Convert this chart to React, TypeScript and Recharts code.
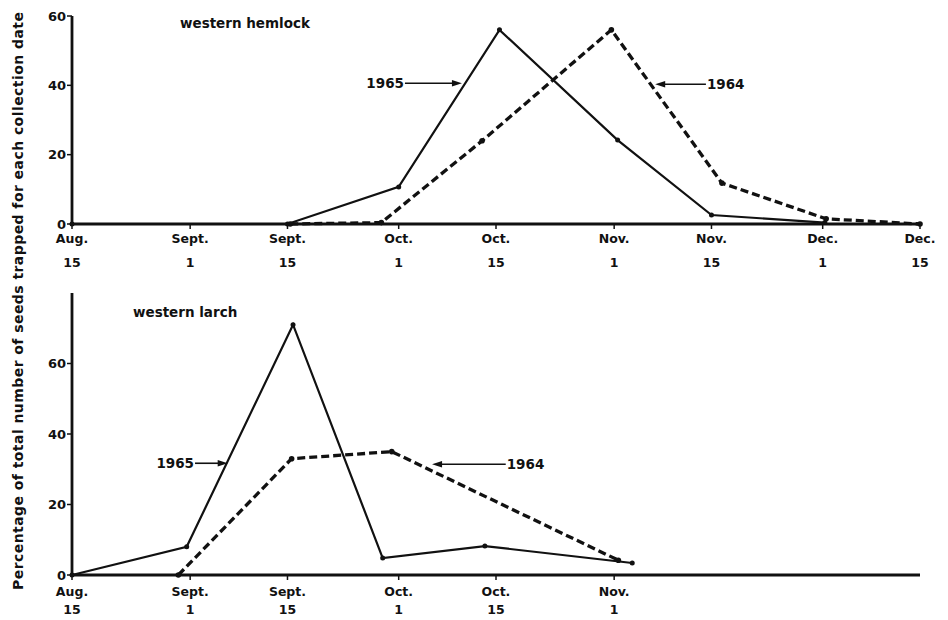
import { LineChart, Line, XAxis, YAxis, ReferenceLine } from 'recharts';

// x is days after Aug. 15 (Dec. 15 = 122)
const TICK_DAYS = [0, 17, 31, 47, 61, 78, 92, 108, 122];
const TICK_MONTH = ['Aug.', 'Sept.', 'Sept.', 'Oct.', 'Oct.', 'Nov.', 'Nov.', 'Dec.', 'Dec.'];
const TICK_DATE = ['15', '1', '15', '1', '15', '1', '15', '1', '15'];
const LARCH_TICK_DAYS = [0, 17, 31, 47, 61, 78];

const hemlockDays1965 = [0, 31, 47, 61.5, 78.5, 92, 108.3];
const hemlockPct1965 = [0, 0, 10.7, 56, 24.2, 2.6, 0.4];
const hemlockDays1964 = [31.4, 44.5, 59, 77.6, 93.5, 108.5, 122];
const hemlockPct1964 = [0, 0.4, 24, 56, 11.8, 1.5, 0];

const larchDays1965 = [0, 16.5, 31.8, 44.7, 59.4, 80.6];
const larchPct1965 = [0, 8, 71, 4.8, 8.2, 3.4];
const larchDays1964 = [15.3, 31.6, 46, 78.6];
const larchPct1964 = [0, 33, 35, 4.2];

const FONT = '"DejaVu Sans", sans-serif';
const INK = '#111';

const zip = (days: number[], vals: number[]) => days.map((d, i) => ({ day: d, v: vals[i] }));

function DateTick(props: any) {
  const { x, y, payload, first, gap } = props;
  const i = TICK_DAYS.indexOf(payload.value);
  return (
    <text x={x} y={y} textAnchor="middle" fontFamily={FONT} fontWeight="bold" fontSize={12.5} fill={INK}>
      <tspan x={x} dy={first}>{TICK_MONTH[i]}</tspan>
      <tspan x={x} dy={gap}>{TICK_DATE[i]}</tspan>
    </text>
  );
}

// arrow from (x1,y1) to (x2,y2), year written before the tail
function Arrow(props: any) {
  const { x1, y1, x2, y2, text } = props;
  const dir = x2 > x1 ? 1 : -1;
  const tip = x2;
  return (
    <g>
      <line x1={x1} y1={y1} x2={tip - dir * 6} y2={y2} stroke={INK} strokeWidth={1.6} />
      <polygon points={`${tip},${y2} ${tip - dir * 10},${y2 - 3.2} ${tip - dir * 10},${y2 + 3.2}`} fill={INK} />
      <text
        x={x1 - dir * 1}
        y={y1 + 5}
        textAnchor={dir > 0 ? 'end' : 'start'}
        fontFamily={FONT}
        fontWeight="bold"
        fontSize={13.5}
        fill={INK}
      >
        {text}
      </text>
    </g>
  );
}

const axisLine = { stroke: INK, strokeWidth: 2.8 };
const tickLine = { stroke: INK, strokeWidth: 1.5 };
const yTick = { fontFamily: FONT, fontWeight: 'bold', fontSize: 13, fill: INK };

export default function App() {
  return (
    <div style={{ position: 'fixed', left: 0, top: 0, width: 948, height: 620, background: '#fff' }}>
      {/* western hemlock */}
      <div style={{ position: 'absolute', left: 0, top: 0 }}>
        <LineChart width={948} height={275} margin={{ top: 16, right: 28, bottom: 6, left: 32 }}>
          <XAxis
            type="number"
            dataKey="day"
            domain={[0, 122]}
            ticks={TICK_DAYS}
            interval={0}
            height={45}
            axisLine={axisLine}
            tickLine={tickLine}
            tickSize={5}
            tickMargin={2}
            tick={(p: any) => <DateTick {...p} first={12} gap={24} />}
          />
          <YAxis
            type="number"
            domain={[0, 60]}
            ticks={[0, 20, 40, 60]}
            width={40}
            axisLine={axisLine}
            tickLine={tickLine}
            tickSize={5}
            tickMargin={1}
            tick={yTick}
          />
          <Line
            data={zip(hemlockDays1965, hemlockPct1965)}
            dataKey="v"
            type="linear"
            stroke={INK}
            strokeWidth={2.2}
            dot={{ r: 2.5, fill: INK, stroke: 'none' }}
            isAnimationActive={false}
          />
          <Line
            data={zip(hemlockDays1964, hemlockPct1964)}
            dataKey="v"
            type="linear"
            stroke={INK}
            strokeWidth={3.3}
            strokeDasharray="8 4"
            dot={{ r: 2.8, fill: INK, stroke: 'none' }}
            isAnimationActive={false}
          />
          <ReferenceLine
            segment={[{ x: 47.9, y: 40.6 }, { x: 56.1, y: 40.6 }]}
            shape={(p: any) => <Arrow {...p} text="1965" />}
          />
          <ReferenceLine
            segment={[{ x: 91.2, y: 40.3 }, { x: 83.9, y: 40.3 }]}
            shape={(p: any) => <Arrow {...p} text="1964" />}
          />
        </LineChart>
      </div>

      {/* western larch */}
      <div style={{ position: 'absolute', left: 0, top: 280 }}>
        <LineChart width={948} height={340} margin={{ top: 13, right: 28, bottom: 0, left: 32 }}>
          <XAxis
            type="number"
            dataKey="day"
            domain={[0, 122]}
            ticks={LARCH_TICK_DAYS}
            interval={0}
            height={45}
            axisLine={axisLine}
            tickLine={tickLine}
            tickSize={5}
            tickMargin={2}
            tick={(p: any) => <DateTick {...p} first={14} gap={18} />}
          />
          <YAxis
            type="number"
            domain={[0, 80]}
            ticks={[0, 20, 40, 60]}
            width={40}
            axisLine={axisLine}
            tickLine={tickLine}
            tickSize={5}
            tickMargin={1}
            tick={yTick}
          />
          <Line
            data={zip(larchDays1965, larchPct1965)}
            dataKey="v"
            type="linear"
            stroke={INK}
            strokeWidth={2.2}
            dot={{ r: 2.5, fill: INK, stroke: 'none' }}
            isAnimationActive={false}
          />
          <Line
            data={zip(larchDays1964, larchPct1964)}
            dataKey="v"
            type="linear"
            stroke={INK}
            strokeWidth={3.3}
            strokeDasharray="8 4"
            dot={{ r: 2.8, fill: INK, stroke: 'none' }}
            isAnimationActive={false}
          />
          <ReferenceLine
            segment={[{ x: 17.7, y: 31.7 }, { x: 22.4, y: 31.7 }]}
            shape={(p: any) => <Arrow {...p} text="1965" />}
          />
          <ReferenceLine
            segment={[{ x: 62.4, y: 31.4 }, { x: 51.8, y: 31.4 }]}
            shape={(p: any) => <Arrow {...p} text="1964" />}
          />
        </LineChart>
      </div>

      {/* panel titles and shared y-axis title */}
      <svg width={948} height={620} style={{ position: 'absolute', left: 0, top: 0, pointerEvents: 'none' }}>
        <g fontFamily={FONT} fontWeight="bold" fill={INK}>
          <text x={180} y={28} fontSize={13.5}>western hemlock</text>
          <text x={133} y={317} fontSize={13.5}>western larch</text>
          <text
            transform="translate(23,301) rotate(-90)"
            textAnchor="middle"
            fontSize={14}
            textLength={578}
            lengthAdjust="spacing"
          >
            Percentage of total number of seeds trapped for each collection date
          </text>
        </g>
      </svg>
    </div>
  );
}
